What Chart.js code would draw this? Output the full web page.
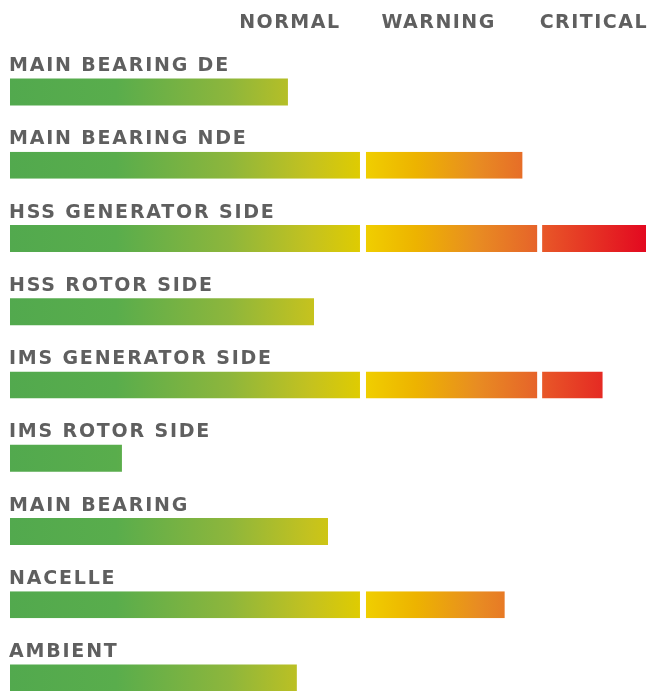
<!DOCTYPE html>
<html>
<head>
<meta charset="utf-8">
<script src="https://cdn.jsdelivr.net/npm/chart.js@4"></script>
<style>
  html, body { margin: 0; padding: 0; background: #fff; }
  #wrap { width: 648px; height: 691px; position: relative; }
</style>
</head>
<body>
<div id="wrap"><canvas id="myChart" width="648" height="691"></canvas></div>
<script>
// sensores
const labels = [
  "MAIN BEARING DE",
  "MAIN BEARING NDE",
  "HSS GENERATOR SIDE",
  "HSS ROTOR SIDE",
  "IMS GENERATOR SIDE",
  "IMS ROTOR SIDE",
  "MAIN BEARING",
  "NACELLE",
  "AMBIENT",
];
// tramos de cada barra (apilados)
const normalValues = [43.7, 55.5, 55.5, 47.8, 55.5, 17.6, 50.0, 55.5, 45.1];
const warningValues = [0, 25.1, 27.7, 0, 27.7, 0, 0, 22.3, 0];
const criticalValues = [0, 0, 16.8, 0, 10.0, 0, 0, 0, 0];
// limites de zona y cabecera
const zoneLimits = [0, 55.5, 83.2, 100];
const zoneNames = ["NORMAL", "WARNING", "CRITICAL"];
const zoneTitlePos = [44.0, 67.4, 91.8];

const zoneStops = [
  [[0, "#52a94e"], [0.3, "#59ad4c"], [0.62, "#8db63c"], [0.85, "#c4c21f"], [1, "#e0cc00"]],
  [[0, "#f0d000"], [0.3, "#edb300"], [0.65, "#e88c22"], [1, "#e6622a"]],
  [[0, "#e85a28"], [1, "#e30920"]],
];

function zoneGradient(zone) {
  return (context) => {
    const chart = context.chart;
    const { ctx, chartArea, scales } = chart;
    if (!chartArea) return zoneStops[zone][0][1];
    const x0 = scales.x.getPixelForValue(zoneLimits[zone]);
    const x1 = scales.x.getPixelForValue(zoneLimits[zone + 1]);
    const g = ctx.createLinearGradient(x0, 0, x1, 0);
    zoneStops[zone].forEach((s) => g.addColorStop(s[0], s[1]));
    return g;
  };
}

const FONT = "bold 19px 'DejaVu Sans', sans-serif";
const TEXT_COLOR = "#5f5f5f";

// etiquetas encima de las barras + cabecera
const textPlugin = {
  id: "textos",
  afterDraw(chart) {
    const { ctx, scales } = chart;
    ctx.save();
    ctx.font = FONT;
    ctx.fillStyle = TEXT_COLOR;
    ctx.letterSpacing = "1.8px";
    ctx.textBaseline = "alphabetic";
    ctx.textAlign = "left";
    labels.forEach((l, i) => {
      const y = scales.y.getPixelForValue(i);
      ctx.fillText(l, scales.x.getPixelForValue(0) - 1, y - 21);
    });
    ctx.letterSpacing = "1.5px";
    ctx.textAlign = "center";
    zoneNames.forEach((n, i) => {
      ctx.fillText(n, scales.x.getPixelForValue(zoneTitlePos[i]), 28);
    });
    ctx.restore();
  },
};

const ctx = document.getElementById("myChart").getContext("2d");
const myChart = new Chart(ctx, {
  type: "bar",
  data: {
    labels: labels,
    datasets: [
      {
        label: "Normal",
        data: normalValues,
        backgroundColor: zoneGradient(0),
        borderColor: "#ffffff",
        borderWidth: (c) => ({ right: warningValues[c.dataIndex] > 0 ? 3 : 0, left: 0, top: 0, bottom: 0 }),
      },
      {
        label: "Warning",
        data: warningValues,
        backgroundColor: zoneGradient(1),
        borderColor: "#ffffff",
        borderWidth: (c) => ({ left: 3, right: criticalValues[c.dataIndex] > 0 ? 2 : 0, top: 0, bottom: 0 }),
      },
      {
        label: "Critical",
        data: criticalValues,
        backgroundColor: zoneGradient(2),
        borderColor: "#ffffff",
        borderWidth: { left: 3, right: 0, top: 0, bottom: 0 },
      },
    ],
  },
  options: {
    indexAxis: "y",
    responsive: false,
    animation: false,
    barThickness: 27,
    inflateAmount: 0,
    borderSkipped: false,
    clip: false,
    layout: { padding: { left: 10, right: 2, top: 92, bottom: 13 } },
    plugins: {
      legend: { display: false },
      tooltip: { enabled: false },
    },
    scales: {
      x: {
        stacked: true,
        min: 0,
        max: 100,
        display: false,
      },
      y: {
        stacked: true,
        offset: false,
        display: false,
      },
    },
  },
  plugins: [textPlugin],
});
</script>
</body>
</html>
